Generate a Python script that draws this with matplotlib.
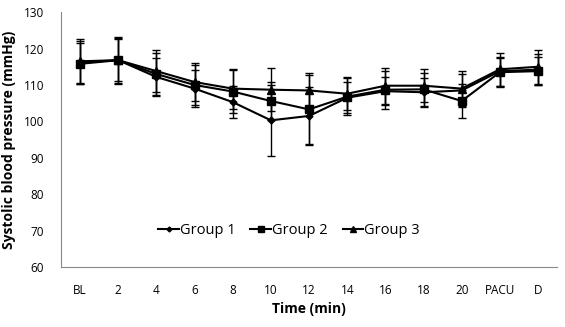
import numpy as np
import matplotlib.pyplot as plt
from matplotlib.lines import Line2D

plt.rcParams['font.family'] = ['Open Sans', 'DejaVu Sans']

times = ["BL", "2", "4", "6", "8", "10", "12", "14", "16", "18", "20", "PACU", "D"]

group1 = [116.2, 116.8, 112.2, 109.0, 105.3, 100.3, 101.5, 106.5, 108.3, 108.0, 108.5, 113.8, 114.2]
group1_err = [5.8, 6.2, 5.2, 5.0, 4.3, 9.8, 8.0, 4.3, 3.8, 4.0, 4.5, 4.0, 4.3]

group2 = [115.8, 116.8, 113.0, 110.0, 108.2, 105.6, 103.3, 106.8, 108.7, 108.8, 105.6, 113.5, 113.8]
group2_err = [5.6, 5.8, 5.8, 5.5, 6.0, 5.3, 9.5, 5.0, 5.2, 4.5, 4.6, 4.0, 3.8]

group3 = [116.5, 116.8, 113.8, 110.8, 109.0, 108.7, 108.5, 107.6, 109.8, 109.8, 109.0, 114.3, 115.0]
group3_err = [6.0, 6.4, 5.8, 5.3, 5.5, 5.9, 4.7, 4.5, 4.9, 4.6, 4.9, 4.5, 4.7]

fig = plt.figure(figsize=(5.65, 3.27), dpi=100)
ax = fig.add_axes([0.108, 0.183, 0.878, 0.78])

x = np.arange(len(times))
series = [
    (group1, group1_err, "D", 3.5, "Group 1"),
    (group2, group2_err, "s", 5.5, "Group 2"),
    (group3, group3_err, "^", 5.5, "Group 3"),
]
handles = []
for vals, err, mk, ms, lab in series:
    ax.errorbar(x, vals, yerr=err, color="black", marker=mk, markersize=ms,
                linewidth=1.5, elinewidth=1.0, capsize=3, capthick=1.0)
    handles.append(Line2D([], [], color="black", marker=mk, markersize=ms - 1,
                          linewidth=1.5, label=lab))

ax.set_xlim(-0.5, len(times) - 0.5)
ax.set_ylim(60, 130)
ax.set_yticks(np.arange(60, 131, 10))
ax.set_xticks(x)
ax.set_xticklabels(times)
ax.tick_params(axis="x", length=0, pad=12, labelsize=8.5)
ax.tick_params(axis="y", length=0, pad=12, labelsize=8.5)

for s in ["top", "right"]:
    ax.spines[s].set_visible(False)
for s in ["left", "bottom"]:
    ax.spines[s].set_color("#888888")

ax.set_xlabel("Time (min)", fontsize=10, fontweight="bold", labelpad=4)
ax.set_ylabel("Systolic blood pressure (mmHg)", fontsize=10, fontweight="bold", labelpad=6)

ax.legend(handles=handles, loc="center", bbox_to_anchor=(0.46, 0.145), ncol=3,
          frameon=False, fontsize=10.5, handlelength=1.4, handletextpad=0.1,
          columnspacing=1.0)

fig.savefig("out.png", dpi=100)
